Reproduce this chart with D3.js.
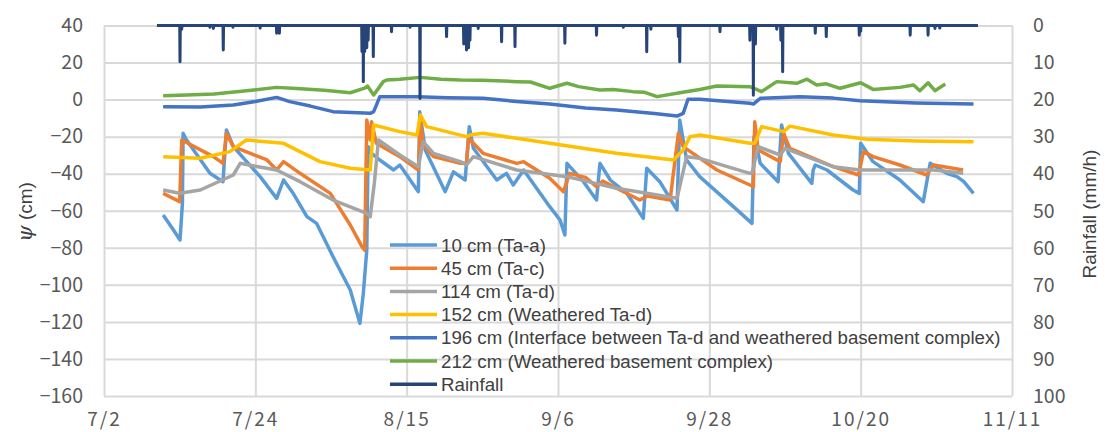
<!DOCTYPE html>
<html>
<head>
<meta charset="utf-8">
<script src="https://cdn.jsdelivr.net/npm/d3@7"></script>
<style>
  body { margin: 0; background: #fff; }
  svg { display: block; }
</style>
</head>
<body>
<svg id="chart" width="1105" height="432"></svg>
<script>
// tick labels
const dateTicks = ["7/2", "7/24", "8/15", "9/6", "9/28", "10/20", "11/11"];
const psiTicks = [40, 20, 0, -20, -40, -60, -80, -100, -120, -140, -160];
const rainTicks = [0, 10, 20, 30, 40, 50, 60, 70, 80, 90, 100];

// series values: [days after 7/2, psi (cm)]
const ta10 = [[8.6,-62.3],[10.1,-70.4],[11.05,-75.8],[11.4,-56],[11.5,-18.2],[12,-21.8],[15.4,-39.8],[17.3,-44.3],[17.8,-16.4],[18.8,-25.4],[22.7,-41.6],[25.1,-53.3],[26.1,-43.4],[27.5,-50.6],[29.5,-63.2],[30.9,-66.8],[33.3,-84.8],[35.8,-102.8],[37.2,-120.8],[37.7,-104.6],[38.2,-81.2],[38.4,-25.4],[38.9,-29],[40.1,-32.6],[42.1,-38],[43,-35.3],[45.7,-49.7],[45.9,-6.5],[46.7,-27.2],[49.6,-49.7],[50.8,-39],[52.5,-43.4],[53.1,-14.6],[53.7,-26.3],[57.1,-43.4],[58.5,-39.8],[59.5,-46.1],[61,-38],[64.8,-57.8],[66.3,-65],[67,-73.1],[67.3,-34.4],[69.7,-44.3],[71.6,-54.2],[72.1,-34.4],[73.6,-43.4],[76,-50.6],[78.4,-64.1],[78.9,-37.1],[80.8,-44.3],[83.3,-59.6],[83.7,-11],[84.7,-32.6],[86.6,-41.6],[91.5,-57.8],[94.2,-66.8],[94.5,-20],[95,-27.2],[95.4,-34.4],[98,-44.3],[98.5,-13.7],[99.5,-29],[102.9,-45.2],[103.1,-38],[103.4,-35.3],[105.1,-38],[108.9,-48.8],[109.8,-50.6],[110,-23.6],[111.8,-33.5],[115.7,-43.4],[119.1,-55.1],[120.1,-34.4],[122.5,-39.8],[124,-41.6],[125,-44.3],[126.4,-50.6]];
const ta45 = [[8.6,-50.6],[11,-55.1],[11.3,-21.8],[15.9,-30.8],[17.3,-34.4],[17.8,-18.2],[18.8,-25.4],[23.7,-32.6],[25.1,-38],[26.1,-33.5],[28.5,-39.8],[32.9,-50.6],[35.8,-67.7],[37.5,-79.4],[37.9,-81.2],[38.2,-11],[38.7,-21.8],[38.9,-12],[39.6,-23.6],[43,-30.8],[45.7,-38],[46,-12],[46.4,-24],[47.9,-30.8],[51.8,-34.4],[52.7,-34.4],[53,-20.9],[55.1,-29],[60,-34.4],[61,-33.5],[64.8,-42.5],[66.8,-49.7],[67.7,-39.8],[70,-42],[71.6,-47],[72.5,-44],[77.9,-54.2],[79,-52],[82.3,-54.2],[83.5,-18.2],[84.2,-25.4],[89.1,-38],[93.9,-46.1],[94.4,-47],[94.6,-12],[95.1,-27.2],[98.3,-33.5],[98.8,-18.2],[99.7,-26.3],[106,-36.2],[109.7,-40.7],[110.4,-28.1],[111.8,-30.8],[115.7,-35.3],[119.6,-40.7],[120.6,-35.3],[124.9,-38]];
const ta114 = [[8.6,-48.8],[11,-50.6],[14,-48.8],[18.8,-40.7],[19.8,-34.4],[22,-36],[25.1,-38],[28.5,-44.3],[33.3,-54.2],[38.2,-61.4],[38.7,-63.2],[39.3,-45],[39.9,-21.8],[43,-29.9],[45.7,-36.2],[46.4,-22.7],[47.9,-29],[51.8,-33.5],[52.7,-35.3],[53.7,-30.8],[60,-38],[67.3,-41.6],[74.5,-47.9],[83.3,-53.3],[84.7,-30.8],[86.6,-31.7],[93.9,-39.8],[94.2,-39.8],[95.1,-25.4],[98.3,-29.9],[99,-26.3],[106,-36.2],[109.9,-38],[120.6,-38],[124.9,-39.8]];
const ta152 = [[8.6,-30.8],[14,-31.7],[18.3,-28.1],[20.7,-21.8],[26.1,-23.6],[31.4,-33.5],[35.8,-37.1],[38.7,-38],[39.2,-13.7],[43,-17.3],[45.5,-19.1],[46,-8.3],[46.9,-14.6],[52.7,-20],[53.2,-19.1],[55.1,-18.2],[64.8,-23.6],[74.5,-29],[82.8,-32.6],[84.2,-27.2],[85.2,-20],[86.6,-19.1],[93.9,-23.6],[94.6,-23.6],[95.6,-14.6],[98.8,-17.3],[99.7,-14.3],[106,-19.1],[110.9,-21.4],[118,-22.3],[126.4,-22.7]];
const ta196 = [[8.6,-3.8],[14,-4],[18.8,-2.9],[22,-1],[25.1,1.2],[27,-1.1],[30,-3.5],[33.3,-6.5],[36,-7],[38.7,-7.4],[39.2,-6.5],[39.6,-3],[40.1,1.6],[45.5,1.6],[50,1],[55.1,0.7],[60,-1],[64.8,-2.4],[70,-4.5],[74.5,-5.6],[80,-7.5],[83.3,-8.9],[84.2,-7.4],[84.9,0.2],[86.6,0.2],[93.9,-2],[94.4,-2.4],[95.4,0.7],[101.2,1.6],[106,0.8],[109.9,-0.6],[118,-1.8],[126.4,-2.4]];
const ta212 = [[8.6,2.1],[12,2.5],[16,3],[20,4.5],[25.1,6.6],[28,6],[32,5],[35.8,3.7],[37.9,6.2],[38.3,7.3],[39.2,2.5],[40.6,9.7],[41.1,10.6],[43,11],[46,12],[49,11],[51.8,10.6],[55,10.5],[60,9.7],[62,9.5],[64.8,6.1],[67.3,8.8],[69,7],[72.1,5.2],[74,5.5],[76.9,4.3],[78.5,4],[80.4,1.6],[83.7,3.7],[86.6,5.5],[89.1,7.3],[93.9,7],[95.6,4.3],[97.8,9.7],[100.7,8.8],[102.2,11],[103.6,7.9],[105,8.5],[107,6.1],[110,9.1],[111.8,5.5],[115.7,6.6],[117.7,7.9],[118.6,4.8],[119.8,9.1],[120.8,4.8],[122.3,8.4]];

// rainfall record: first/last day and the rainy hours [days after 7/2, mm/h]
const rainSpan = [7.7, 127.05];
const rainEvents = [[11.05,9.8],[11.3,1],[15.4,0.5],[15.9,0.8],[17.34,6.6],[18.75,0.5],[22.7,0.7],[25.1,2.1],[25.5,2.1],[37.5,7],[37.7,15.2],[37.9,7],[38.2,6],[38.4,4],[39.15,8.4],[41.8,1.7],[44.5,0.5],[45.94,19.7],[49.8,3],[52.3,5],[52.7,6.6],[53,6],[53.2,4],[54.4,0.8],[57.8,4.4],[59.75,5.7],[67,4.8],[71.6,2.6],[75.5,0.5],[78.9,7.1],[79.5,1],[83.5,3],[83.7,9.8],[89.55,1.7],[93.9,4],[94.4,18.8],[94.7,5],[97.8,1],[98.4,4],[98.66,12.5],[103.4,2.1],[105,3],[109.8,2.6],[110,1.5],[117.2,2.6],[119.8,2.6],[120.8,0.8],[121.5,0.7]];

const seriesNames = ["10 cm (Ta-a)", "45 cm (Ta-c)", "114 cm (Ta-d)", "152 cm (Weathered Ta-d)",
  "196 cm (Interface between Ta-d and weathered basement complex)", "212 cm (Weathered basement complex)", "Rainfall"];
const seriesColours = ["#5b9bd5", "#ed7d31", "#a5a5a5", "#ffc000", "#4472c4", "#70ad47", "#264478"];
const psiSeries = [ta10, ta45, ta114, ta152, ta196, ta212];

var margin = {top: 25.5, right: 93, bottom: 36, left: 104},
    W = 1105, H = 432,
    width = W - margin.left - margin.right,
    height = H - margin.top - margin.bottom;

var YEAR = 2019;
function parseTick(s){
  var p = s.split("/");
  return new Date(YEAR, +p[0]-1, +p[1]);
}
var t0 = parseTick(dateTicks[0]);
function dayToDate(d){ return new Date(t0.getTime() + d*864e5); }

var svg = d3.select("#chart");
var g = svg.append("g").attr("transform", "translate(" + margin.left + "," + margin.top + ")");

var x = d3.scaleTime()
  .domain([parseTick(dateTicks[0]), parseTick(dateTicks[dateTicks.length-1])])
  .range([0, width]);
var y = d3.scaleLinear().domain([-160, 40]).range([height, 0]);
var y2 = d3.scaleLinear().domain([0, 100]).range([0, height]);

var tickFont = "'Noto Sans CJK JP', 'Noto Sans', sans-serif";
var gridColour = "#d9d9d9";

// horizontal grid + left ticks
var yAxis = d3.axisLeft(y).tickValues(psiTicks).tickSize(-width).tickPadding(21);
var gy = g.append("g").attr("class", "y axis").call(yAxis);
gy.select(".domain").remove();
gy.selectAll("line").attr("stroke", gridColour).attr("stroke-width", 2);
gy.selectAll("text").attr("font-family", tickFont).attr("font-size", 19.5).attr("fill", "#595959");

// vertical grid + date ticks
var xAxis = d3.axisBottom(x).tickValues(dateTicks.map(parseTick))
  .tickFormat(d3.timeFormat("%-m/%-d")).tickSize(-height).tickPadding(17);
var gx = g.append("g").attr("class", "x axis")
  .attr("transform", "translate(0," + height + ")")
  .call(xAxis);
gx.select(".domain").remove();
gx.selectAll("line").attr("stroke", gridColour).attr("stroke-width", 2);
gx.selectAll("text").attr("font-family", tickFont).attr("font-size", 19)
  .attr("letter-spacing", "2px").attr("fill", "#595959");

// right rainfall ticks (grid lines already drawn)
var y2Axis = d3.axisRight(y2).tickValues(rainTicks).tickSize(0).tickPadding(21);
var gy2 = g.append("g").attr("class", "y2 axis")
  .attr("transform", "translate(" + width + ",0)")
  .call(y2Axis);
gy2.select(".domain").remove();
gy2.selectAll("text").attr("font-family", tickFont).attr("font-size", 19.5).attr("fill", "#595959");

// psi lines
var line = d3.line()
  .x(function(d){ return x(dayToDate(d[0])); })
  .y(function(d){ return y(d[1]); });

psiSeries.forEach(function(s, i){
  g.append("path")
    .datum(s)
    .attr("fill", "none")
    .attr("stroke", seriesColours[i])
    .attr("stroke-width", 3.5)
    .attr("stroke-linejoin", "round")
    .attr("d", line);
});

// rainfall: hourly record, zero between the rainy hours
var hour = 1/24;
var rainPts = [[rainSpan[0], 0]];
rainEvents.forEach(function(e){
  rainPts.push([e[0]-hour, 0], [e[0], e[1]], [e[0]+hour, 0]);
});
rainPts.push([rainSpan[1], 0]);

var rainLine = d3.line()
  .x(function(d){ return x(dayToDate(d[0])); })
  .y(function(d){ return y2(d[1]); });

g.append("path")
  .datum(rainPts)
  .attr("fill", "none")
  .attr("stroke", seriesColours[6])
  .attr("stroke-width", 3)
  .attr("stroke-linejoin", "round")
  .attr("d", rainLine);

// legend (transparent background)
var legend = svg.append("g").attr("transform", "translate(390,245)");
seriesNames.forEach(function(name, i){
  var row = legend.append("g").attr("transform", "translate(0," + (i*23.2) + ")");
  row.append("line")
    .attr("x1", 0).attr("x2", 47)
    .attr("stroke", seriesColours[i])
    .attr("stroke-width", 3.5);
  row.append("text")
    .attr("x", 51)
    .attr("dy", "0.35em")
    .attr("font-family", "'Liberation Sans', Arial, sans-serif")
    .attr("font-size", 18.7)
    .attr("fill", "#404040")
    .text(name);
});

// axis titles
var psiTitle = svg.append("text")
  .attr("transform", "translate(32,212) rotate(-90)")
  .attr("text-anchor", "middle")
  .attr("font-size", 19)
  .attr("fill", "#404040");
psiTitle.append("tspan")
  .attr("font-family", "'DejaVu Serif', 'Liberation Serif', serif")
  .attr("font-style", "italic")
  .attr("font-size", 21)
  .text("ψ");
psiTitle.append("tspan")
  .attr("font-family", "'Liberation Sans', Arial, sans-serif")
  .text(" (cm)");

svg.append("text")
  .attr("transform", "translate(1096,214) rotate(-90)")
  .attr("text-anchor", "middle")
  .attr("font-family", "'Liberation Sans', Arial, sans-serif")
  .attr("font-size", 19)
  .attr("fill", "#404040")
  .text("Rainfall (mm/h)");
</script>
</body>
</html>
